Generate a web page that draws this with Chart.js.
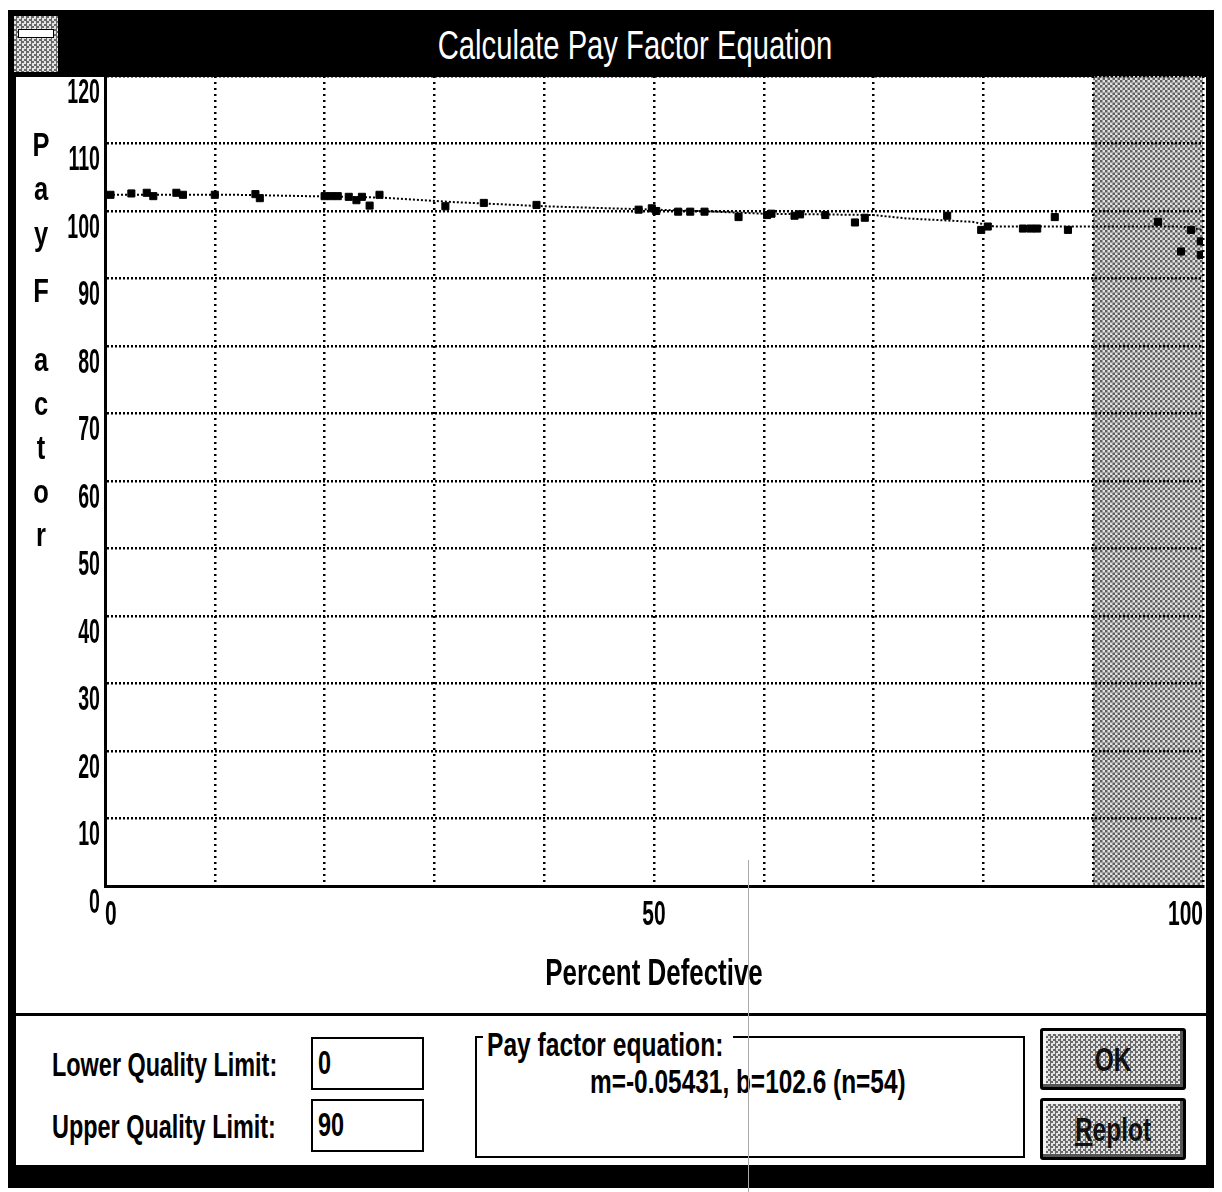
<!DOCTYPE html>
<html>
<head>
<meta charset="utf-8">
<script src="https://cdn.jsdelivr.net/npm/chart.js@4.4.1/dist/chart.umd.min.js"></script>
<style>
body { margin: 0; width: 1222px; height: 1192px; background: #fff; position: relative; overflow: hidden;
       font-family: 'Liberation Sans', Arial, sans-serif; }
.abs { position: absolute; }
.cond { transform: scaleX(0.71); transform-origin: left center; white-space: nowrap; }
.checker { background-color: #e4e4e4;
           background-image: repeating-conic-gradient(#6a6a6a 0 25%, #e4e4e4 0 50%);
           background-size: 5px 5px; }
#frame { left: 8px; top: 10px; width: 1206px; height: 1178px; background: #000; }
#client { left: 16px; top: 77px; width: 1190px; height: 1088px; background: #fff; }
#sep { left: 16px; top: 1013px; width: 1190px; height: 3px; background: #000; }
#sysmenu { left: 14px; top: 16px; width: 44px; height: 56px; }
#sysbar { left: 18px; top: 29px; width: 34px; height: 7px; background: #fff; border: 1px solid #000; }
#title { left: 0; top: 14px; width: 1270px; height: 62px; color: #fff; font-size: 40px;
         text-align: center; line-height: 62px; transform: scaleX(0.73); transform-origin: 635px 0; white-space: nowrap; }
#chartBox { left: 0; top: 76px; width: 1222px; height: 937px; }
.ylet { width: 30px; left: 26px; text-align: center; font-size: 34px; font-weight: bold; line-height: 34px;
        transform: scaleX(0.75); }
.lbl { font-size: 33px; font-weight: bold; line-height: 34px; }
.box { border: 2px solid #000; background: #fff; box-sizing: border-box; }
.btn { width: 146px; height: 62px; box-sizing: border-box; border: 3px solid #000; border-radius: 3px;
       box-shadow: inset -3px -3px 0 #555, inset 3px 3px 0 #f4f4f4; }
.btxt { font-size: 34px; font-weight: bold; color: #111; line-height: 56px; text-align: center;
        width: 140px; transform: scaleX(0.72); transform-origin: 70px 0; }
#scan { left: 748px; top: 860px; width: 1px; height: 332px; background: #aaa; }
</style>
</head>
<body>
<div id="frame" class="abs"></div>
<div id="client" class="abs"></div>
<div id="sysmenu" class="abs checker"></div>
<div id="sysbar" class="abs"></div>
<div id="title" class="abs">Calculate Pay Factor Equation</div>
<div id="sep" class="abs"></div>

<div id="chartBox" class="abs"><canvas id="payChart"></canvas></div>

<div id="ytitle"></div>

<div class="abs lbl cond" style="left:52px;top:1048px;">Lower Quality Limit:</div>
<div class="abs lbl cond" style="left:52px;top:1110px;">Upper Quality Limit:</div>
<div class="abs box" style="left:311px;top:1037px;width:113px;height:53px;"></div>
<div class="abs lbl cond" style="left:318px;top:1046px;">0</div>
<div class="abs box" style="left:311px;top:1099px;width:113px;height:53px;"></div>
<div class="abs lbl cond" style="left:318px;top:1108px;">90</div>

<div class="abs" style="left:475px;top:1036px;width:550px;height:122px;border:2px solid #000;box-sizing:border-box;"></div>
<div class="abs" style="left:483px;top:1030px;width:250px;height:14px;background:#fff;"></div>
<div class="abs lbl cond" style="left:487px;top:1028px;transform:scaleX(0.745);">Pay factor equation:</div>
<div class="abs lbl cond" style="left:590px;top:1065px;transform:scaleX(0.74);">m=-0.05431, b=102.6 (n=54)</div>

<div class="abs btn checker" style="left:1040px;top:1028px;"><div class="btxt">OK</div></div>
<div class="abs btn checker" style="left:1040px;top:1098px;"><div class="btxt"><u>R</u>eplot</div></div>

<div id="scan" class="abs"></div>

<script>
// readings (percent defective vs pay factor)
const percentDefective = [0.5, 2.4, 3.8, 4.4, 6.5, 7.1, 10.0, 13.7, 14.1,
    20.0, 20.6, 21.2, 22.2, 22.9, 23.4, 24.1, 25.0,
    31.0, 34.5, 39.3,
    48.6, 49.8, 50.2, 52.2, 53.3, 54.6,
    57.7, 60.3, 60.7, 62.8, 63.3, 65.6, 68.3, 69.2,
    76.7, 79.8, 80.4, 83.6, 84.3, 84.9, 86.5, 87.7,
    95.9, 98.0, 98.9, 99.8, 99.8];
const payFactor = [102.4, 102.6, 102.7, 102.2, 102.7, 102.4, 102.4, 102.5, 101.9,
    102.2, 102.2, 102.2, 102.1, 101.6, 102.1, 100.8, 102.4,
    100.7, 101.2, 100.9,
    100.2, 100.4, 100.0, 99.9, 99.9, 99.9,
    99.1, 99.4, 99.6, 99.3, 99.5, 99.4, 98.3, 99.0,
    99.3, 97.2, 97.7, 97.4, 97.4, 97.4, 99.1, 97.2,
    98.4, 94.0, 97.2, 95.5, 93.5];

// dotted trace through the data
const traceX = [0, 12, 25, 32, 40, 54, 60, 70, 73, 79, 81, 98, 100];
const traceY = [102.4, 102.4, 102.0, 101.3, 100.7, 100.0, 99.6, 99.4, 98.9, 98.4, 97.7, 97.7, 97.2];

const xLabelValues = [0, 50, 100];
const tickStep = 10;
const upperQualityLimit = 90;
const yTitleLetters = ['P', 'a', 'y', 'F', 'a', 'c', 't', 'o', 'r'];
const yTitleTops = [127, 171, 216, 273, 342, 386, 430, 474, 517];

const plotTop = 76; // page y where the chart area must start
const fontFamily = "'Liberation Sans', Arial, sans-serif";
const tickFont = { family: fontFamily, size: 35, weight: 'bold' };

// stacked axis title
const yt = document.getElementById('ytitle');
yTitleLetters.forEach((ch, i) => {
    const d = document.createElement('div');
    d.className = 'abs ylet';
    d.style.top = yTitleTops[i] + 'px';
    d.textContent = ch;
    yt.appendChild(d);
});

function makePattern(ctx) {
    const c = document.createElement('canvas');
    c.width = 5; c.height = 5;
    const p = c.getContext('2d');
    p.fillStyle = '#e0e0e0';
    p.fillRect(0, 0, 5, 5);
    p.fillStyle = '#606060';
    p.fillRect(0, 0, 2.5, 2.5);
    p.fillRect(2.5, 2.5, 2.5, 2.5);
    return ctx.createPattern(c, 'repeat');
}

// grey area beyond the upper quality limit
const shadePlugin = {
    id: 'shade',
    beforeDraw(chart) {
        const { ctx, chartArea, scales } = chart;
        const x0 = scales.x.getPixelForValue(upperQualityLimit);
        const x1 = scales.x.getPixelForValue(100);
        ctx.save();
        ctx.fillStyle = makePattern(ctx);
        ctx.fillRect(x0, chartArea.top, x1 - x0, chartArea.bottom - chartArea.top);
        ctx.restore();
    }
};

// squeeze axis text sideways, like the old narrow screen font
function condensed(ctx, factor, fn) {
    const fill = CanvasRenderingContext2D.prototype.fillText;
    ctx.fillText = function (text, x, y) {
        ctx.save();
        ctx.translate(x, y);
        ctx.scale(factor, 1);
        fill.call(ctx, text, 0, 0);
        ctx.restore();
    };
    fn();
    delete ctx.fillText;
}
const narrowPlugin = {
    id: 'narrow',
    beforeDraw(chart) {
        ['x', 'y'].forEach(id => {
            const s = chart.scales[id];
            if (s._narrow) return;
            const labels = s.drawLabels, title = s.drawTitle;
            const f = id === 'y' ? 0.56 : 0.6;
            s.drawLabels = function (area) { condensed(this.ctx, f, () => labels.call(this, area)); };
            s.drawTitle = function () { condensed(this.ctx, 0.72, () => title.call(this)); };
            s._narrow = true;
        });
    }
};

const points = percentDefective.map((x, i) => ({ x: x, y: payFactor[i] }));
const trace = traceX.map((x, i) => ({ x: x, y: traceY[i] }));

const ctx = document.getElementById('payChart').getContext('2d');
const chart = new Chart(ctx, {
    type: 'scatter',
    data: {
        datasets: [{
            type: 'line',
            data: trace,
            borderColor: '#000',
            borderWidth: 2,
            borderDash: [2, 2],
            pointRadius: 0,
            fill: false,
            tension: 0,
            order: 2
        }, {
            data: points,
            pointStyle: 'rect',
            pointRadius: 5,
            backgroundColor: '#000',
            borderColor: '#000',
            borderWidth: 1,
            order: 1
        }]
    },
    options: {
        responsive: true,
        maintainAspectRatio: false,
        animation: false,
        layout: { padding: { left: 0, right: 19, top: 0, bottom: 0 } },
        plugins: { legend: { display: false }, tooltip: { enabled: false } },
        scales: {
            x: {
                type: 'linear', min: 0, max: 100,
                ticks: {
                    stepSize: tickStep, autoSkip: false, maxRotation: 0, align: 'inner',
                    padding: 8, color: '#000', font: tickFont,
                    callback: v => xLabelValues.includes(v) ? String(v) : ''
                },
                grid: { color: '#000', lineWidth: 2.5, drawTicks: false },
                border: { color: '#000', width: 3, dash: [2, 4] },
                title: {
                    display: true, text: 'Percent Defective', color: '#000',
                    font: { family: fontFamily, size: 36, weight: 'bold' },
                    padding: { top: 4, bottom: 16 }
                },
                afterFit: s => { s.height = 127; }
            },
            y: {
                min: 0, max: 120,
                ticks: { stepSize: tickStep, labelOffset: 17, padding: 5, color: '#000', font: tickFont },
                grid: { color: '#000', lineWidth: 2.5, drawTicks: false },
                border: { color: '#000', width: 3, dash: [2, 2] },
                afterFit: s => { s.width = 105; }
            }
        }
    },
    plugins: [shadePlugin, narrowPlugin]
});

// pull the canvas up so the plot area starts right under the title bar
const box = document.getElementById('chartBox');
const off = chart.chartArea.top;
box.style.top = (plotTop - off) + 'px';
box.style.height = (937 + off) + 'px';
chart.resize();
</script>
</body>
</html>
